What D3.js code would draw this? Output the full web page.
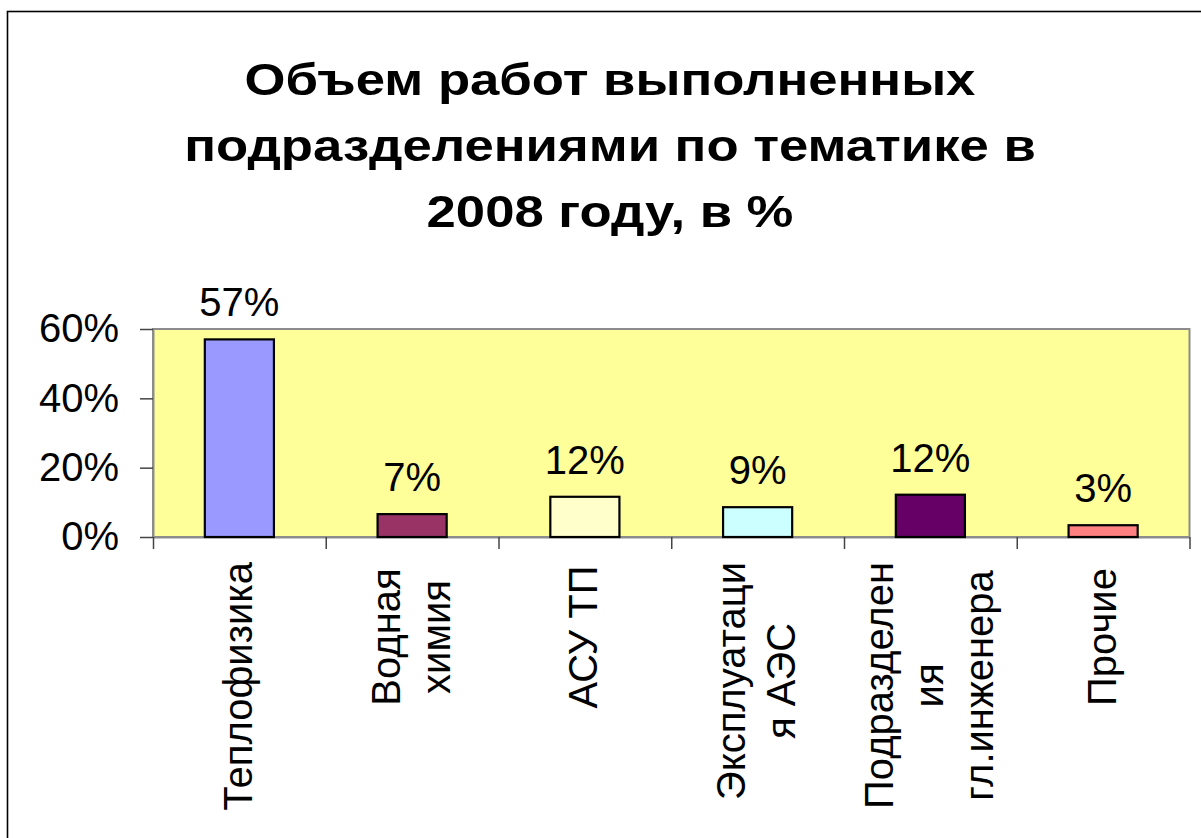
<!DOCTYPE html>
<html>
<head>
<meta charset="utf-8">
<script src="https://cdn.jsdelivr.net/npm/d3@7"></script>
<style>
  body { margin: 0; background: #fff; }
  svg { display: block; font-family: "Liberation Sans", Arial, sans-serif; }
</style>
</head>
<body>
<svg width="1201" height="838"></svg>
<script>
const titleLines = ['Объем работ выполненных', 'подразделениями по тематике в', '2008 году, в %']
const categories = [
  ['Теплофизика'],
  ['Водная', 'химия'],
  ['АСУ ТП'],
  ['Эксплуатаци', 'я АЭС'],
  ['Подразделен', 'ия', 'гл.инженера'],
  ['Прочие']
]
const values = [57, 6.6, 11.6, 8.6, 12.2, 3.4]
const barColors = ['#9999FF', '#993366', '#FFFFCC', '#CCFFFF', '#660066', '#FF8080']
const yTicks = [0, 20, 40, 60]

const margin = {top: 329, right: 11.5, bottom: 301, left: 153}
const width = 1201
const height = 838

const svg = d3.select('svg')

// outer chart frame
svg.append('rect')
  .attr('x', 7.5).attr('y', 11.5)
  .attr('width', 1400).attr('height', 1000)
  .attr('fill', 'none')
  .attr('stroke', '#000')
  .attr('stroke-width', 1.6)

// title (the original is a bit stretched sideways)
svg.append('g')
  .attr('transform', 'translate(610, 0) scale(1.17, 1)')
  .append('text')
  .attr('text-anchor', 'middle')
  .attr('font-weight', 'bold')
  .attr('font-size', 45)
  .selectAll('tspan')
  .data(titleLines)
  .join('tspan')
  .attr('x', 0)
  .attr('y', (d, i) => 95 + i * 66)
  .text(d => d)

const x = d3.scaleBand()
  .domain(d3.range(categories.length))
  .range([margin.left, width - margin.right])
  .paddingInner(0.6)
  .paddingOuter(0.3)

const xEdge = d3.scaleLinear()
  .domain([0, categories.length])
  .range([margin.left, width - margin.right])

const y = d3.scaleLinear()
  .domain([0, 60])
  .range([height - margin.bottom, margin.top])

// plot area
svg.append('rect')
  .attr('x', margin.left)
  .attr('y', margin.top)
  .attr('width', width - margin.right - margin.left)
  .attr('height', y(0) - margin.top)
  .attr('fill', '#FFFF99')
  .attr('stroke', '#8c8c8c')
  .attr('stroke-width', 2)

// y axis
const yAxis = svg.append('g')
  .attr('transform', `translate(${margin.left}, 0)`)
  .call(d3.axisLeft(y).tickValues(yTicks).tickFormat(d => d + '%').tickSize(13).tickPadding(21).tickSizeOuter(0))
yAxis.select('.domain').attr('stroke', '#8c8c8c').attr('stroke-width', 2)
yAxis.selectAll('.tick line').attr('stroke', '#444').attr('stroke-width', 1.5)
yAxis.selectAll('.tick text')
  .attr('font-size', 40)
  .attr('fill', '#000')
  .attr('font-family', '"Liberation Sans", Arial, sans-serif')

// x axis: ticks between categories
const xAxis = svg.append('g')
  .attr('transform', `translate(0, ${y(0)})`)
  .call(d3.axisBottom(xEdge).tickValues(d3.range(categories.length + 1)).tickFormat('').tickSize(12).tickSizeOuter(0))
xAxis.select('.domain').attr('stroke', '#8c8c8c').attr('stroke-width', 2)
xAxis.selectAll('.tick line').attr('stroke', '#444').attr('stroke-width', 1.5)

// bars
svg.append('g')
  .selectAll('rect')
  .data(values)
  .join('rect')
  .attr('x', (d, i) => x(i))
  .attr('y', d => y(d))
  .attr('width', x.bandwidth())
  .attr('height', d => y(0) - y(d))
  .attr('fill', (d, i) => barColors[i])
  .attr('stroke', '#000')
  .attr('stroke-width', 2.2)

// data labels
svg.append('g')
  .selectAll('text')
  .data(values)
  .join('text')
  .attr('x', (d, i) => x(i) + x.bandwidth() / 2)
  .attr('y', d => y(d) - 23)
  .attr('text-anchor', 'middle')
  .attr('font-size', 40)
  .text(d => Math.round(d) + '%')

// category labels, rotated
const lineH = 50
const labels = svg.append('g')
  .selectAll('g')
  .data(categories)
  .join('g')

labels.each(function(lines, i) {
  const g = d3.select(this)
  const t = g.append('text')
    .attr('text-anchor', 'middle')
    .attr('font-size', 40)
  t.selectAll('tspan')
    .data(lines)
    .join('tspan')
    .attr('x', 0)
    .attr('y', (d, j) => (j - (lines.length - 1) / 2) * lineH)
    .attr('dy', '0.31em')
    .text(d => d)
  const len = d3.max(t.selectAll('tspan').nodes(), n => n.getComputedTextLength())
  const cy = y(0) + 25 + Math.max(len, 150) / 2
  g.attr('transform', `translate(${x(i) + x.bandwidth() / 2}, ${cy}) rotate(-90)`)
})
</script>
</body>
</html>
